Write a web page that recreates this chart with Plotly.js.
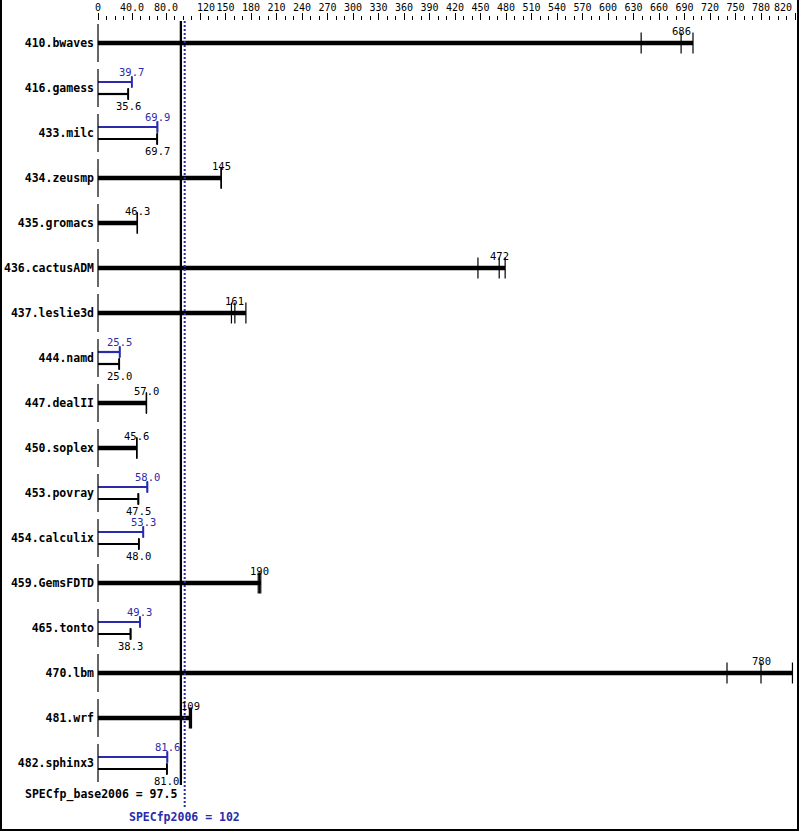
<!DOCTYPE html>
<html>
<head>
<meta charset="utf-8">
<script src="https://cdn.plot.ly/plotly-3.0.1.min.js"></script>
<style>
html,body{margin:0;padding:0;background:#fff;}
#wrap{position:relative;width:799px;height:831px;}
#chart{width:799px;height:831px;}
#frame{position:absolute;left:0;top:0;width:799px;height:831px;box-sizing:border-box;border-left:2px solid #000;border-right:2px solid #000;border-bottom:2px solid #000;pointer-events:none;}
</style>
</head>
<body>
<div id="wrap"><div id="chart"></div><div id="frame"></div></div>
<script>
// ---- data ----
const benchmarks = ['410.bwaves','416.gamess','433.milc','434.zeusmp','435.gromacs','436.cactusADM','437.leslie3d','444.namd','447.dealII','450.soplex','453.povray','454.calculix','459.GemsFDTD','465.tonto','470.lbm','481.wrf','482.sphinx3'];
const baseMedian = [686, 35.6, 69.7, 145, 46.3, 472, 161, 25.0, 57.0, 45.6, 47.5, 48.0, 190, 38.3, 780, 109, 81.0];
const baseLabels = ['686','35.6','69.7','145','46.3','472','161','25.0','57.0','45.6','47.5','48.0','190','38.3','780','109','81.0'];
const baseRuns = [
  [639, 686, 700], [35.5, 35.6, 35.7], [69.6, 69.7, 69.8], [144.8, 145, 145.2], [46.2, 46.3, 46.4],
  [447, 472, 479], [157, 161, 174], [24.9, 25.0, 25.1], [56.9, 57.0, 57.1], [45.5, 45.6, 45.7],
  [47.4, 47.5, 47.6], [47.9, 48.0, 48.1], [188.5, 190, 191.5], [38.2, 38.3, 38.4], [740, 780, 817],
  [107.5, 109, 110], [80.9, 81.0, 81.1]
];
const peakMedian = [null, 39.7, 69.9, null, null, null, null, 25.5, null, null, 58.0, 53.3, null, 49.3, null, null, 81.6];
const peakLabels = [null, '39.7', '69.9', null, null, null, null, '25.5', null, null, '58.0', '53.3', null, '49.3', null, null, '81.6'];
const peakRuns = [
  null, [39.6, 39.7, 39.8], [69.8, 69.9, 70.0], null, null, null, null, [25.4, 25.5, 25.6], null, null,
  [57.9, 58.0, 58.3], [53.2, 53.3, 53.4], null, [49.2, 49.3, 49.4], null, null, [81.5, 81.6, 81.7]
];
const baseScore = 97.5, peakScore = 102;
const baseScoreLabel = 'SPECfp_base2006 = 97.5';
const peakScoreLabel = 'SPECfp2006 = 102';
const xTickVals = [0,40,80,120,150,180,210,240,270,300,330,360,390,420,450,480,510,540,570,600,630,660,690,720,750,780,820];
const xTickText = ['0','40.0','80.0','\u00a0\u00a0120','150','180','210','240','270','300','330','360','390','420','450','480','510','540','570','600','630','660','690','720','750','780',''];
const xEndTickVal = [820];
const xEndTickText = ['820'];

// ---- styling ----
const BLUE = 'rgb(42,42,170)';
const MONO = 'DejaVu Sans Mono, monospace';
const OFF = 6/45;

const hasPeak = peakMedian.map(v => v !== null);

const thick = {x:[], y:[]}, thinBase = {x:[], y:[]}, thinPeak = {x:[], y:[]};
const tickBig = {x:[], y:[]}, tickBase = {x:[], y:[]}, tickPeak = {x:[], y:[]};
const rowLine = {x:[], y:[]};
const annotations = [];

benchmarks.forEach((b, i) => {
  rowLine.x.push(0); rowLine.y.push(i);
  const bmax = Math.max(...baseRuns[i]);
  if (!hasPeak[i]) {
    thick.x.push(0, bmax, null); thick.y.push(i, i, null);
    baseRuns[i].forEach(v => { tickBig.x.push(v); tickBig.y.push(i); });
    annotations.push({x: baseMedian[i], y: i, text: baseLabels[i], showarrow:false, yshift: 12.5,
      font:{family:MONO, size:10.5, color:'#000'}});
  } else {
    const pmax = Math.max(...peakRuns[i]);
    thinPeak.x.push(0, pmax, null); thinPeak.y.push(i - OFF, i - OFF, null);
    thinBase.x.push(0, bmax, null); thinBase.y.push(i + OFF, i + OFF, null);
    peakRuns[i].forEach(v => { tickPeak.x.push(v); tickPeak.y.push(i - OFF); });
    baseRuns[i].forEach(v => { tickBase.x.push(v); tickBase.y.push(i + OFF); });
    annotations.push({x: peakMedian[i], y: i - OFF, text: peakLabels[i], showarrow:false, yshift: 10.5,
      font:{family:MONO, size:10.5, color:BLUE}});
    annotations.push({x: baseMedian[i], y: i + OFF, text: baseLabels[i], showarrow:false, yshift: -12,
      font:{family:MONO, size:10.5, color:'#000'}});
  }
});

const n = benchmarks.length;
annotations.push({x: baseScore, y: n - 1 + 0.69, text: baseScoreLabel, showarrow:false, xanchor:'right', xshift:-2,
  font:{family:MONO, size:11.5, color:'#000', weight:'bold'}});
annotations.push({x: peakScore, y: n - 1 + 1.2, text: peakScoreLabel, showarrow:false, xanchor:'center',
  font:{family:MONO, size:11.5, color:BLUE, weight:'bold'}});

const yTop = -22/45, yBot = 777/45;

const traces = [
  {x:[baseScore, baseScore], y:[yTop, n - 1 + 0.49], mode:'lines', line:{color:'#000', width:2.3}, hoverinfo:'skip'},
  {x:[peakScore, peakScore], y:[yTop, n - 1 + 1.0], xaxis:'x2', mode:'lines', line:{color:BLUE, width:2, dash:'2px,2px'}, hoverinfo:'skip'},
  {x: thick.x, y: thick.y, mode:'lines', line:{color:'#000', width:4.5}, hoverinfo:'skip'},
  {x: thinPeak.x, y: thinPeak.y, mode:'lines', line:{color:BLUE, width:2.2}, hoverinfo:'skip'},
  {x: thinBase.x, y: thinBase.y, mode:'lines', line:{color:'#000', width:2.2}, hoverinfo:'skip'},
  {x: rowLine.x, y: rowLine.y, mode:'markers', marker:{symbol:'line-ns', size:27, line:{color:'#000', width:1.2}}, hoverinfo:'skip'},
  {x: tickBig.x, y: tickBig.y, mode:'markers', marker:{symbol:'line-ns', size:15, line:{color:'#000', width:1.2}}, hoverinfo:'skip'},
  {x: tickPeak.x, y: tickPeak.y, mode:'markers', marker:{symbol:'line-ns', size:8, line:{color:BLUE, width:1.5}}, hoverinfo:'skip'},
  {x: tickBase.x, y: tickBase.y, mode:'markers', marker:{symbol:'line-ns', size:8, line:{color:'#000', width:1.5}}, hoverinfo:'skip'}
];
traces.forEach(t => { t.type = 'scatter'; t.showlegend = false; t.cliponaxis = false; });

const minorVals = [];
for (let v = 0; v <= 820; v += 10) if (!xTickVals.includes(v)) minorVals.push(v);

const layout = {
  width: 799, height: 831,
  margin: {l: 98, r: 4, t: 21, b: 11},
  paper_bgcolor: '#fff', plot_bgcolor: '#fff',
  showlegend: false,
  xaxis: {
    side: 'top', range: [0, 820], tickmode: 'array', tickvals: xTickVals, ticktext: xTickText,
    tickangle: 0, ticklabelstandoff: -2,
    ticks: 'outside', ticklen: 7, tickwidth: 1, tickcolor: '#000',
    showgrid: false, zeroline: false, showline: false, fixedrange: true,
    tickfont: {family: MONO, size: 10, color: '#000'},
    minor: {tickmode: 'array', tickvals: minorVals, ticks: 'outside', ticklen: 4, tickwidth: 1, tickcolor: '#000', showgrid: false}
  },
  xaxis2: {
    overlaying: 'x', side: 'top', range: [0, 820], tickmode: 'array', tickvals: xEndTickVal, ticktext: xEndTickText,
    tickangle: 0, ticklabelstandoff: -2, ticklabelshift: -12, ticklabeloverflow: 'allow',
    ticks: 'outside', ticklen: 7, tickwidth: 1, tickcolor: '#000',
    showgrid: false, zeroline: false, showline: false, fixedrange: true,
    tickfont: {family: MONO, size: 10, color: '#000'}
  },
  yaxis: {
    range: [yBot, yTop], tickmode: 'array', tickvals: benchmarks.map((_, i) => i), ticktext: benchmarks,
    ticks: '', showgrid: false, zeroline: false, showline: false, fixedrange: true,
    ticklabelstandoff: 3,
    tickfont: {family: MONO, size: 11.5, color: '#000', weight: 'bold'}
  },
  annotations: annotations
};

Plotly.newPlot('chart', traces, layout, {staticPlot: true, displayModeBar: false});
</script>
</body>
</html>
